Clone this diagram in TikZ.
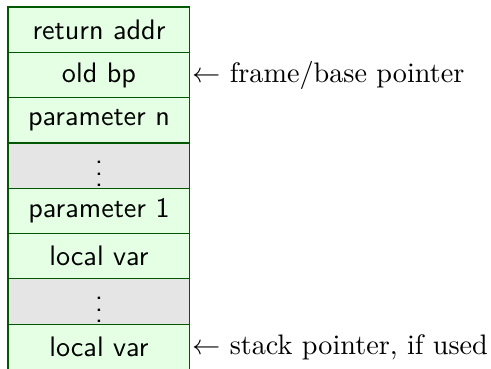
\documentclass[tikz,border=0pt]{standalone}
\usetikzlibrary{positioning}
\tikzset{
  cell/.style={draw=green!35!black, fill=green!10, minimum width=64.5pt, minimum height=16.07pt, inner sep=0pt, outer sep=0pt, font=\sffamily},
  gapcell/.style={cell, fill=gray!20},
  ptr/.style={anchor=west, inner sep=0.6pt}
}
\begin{document}
\begin{tikzpicture}
        \useasboundingbox (0,0) rectangle (174.1pt,-130.5pt);
        \node[cell, anchor=north west] (ret) at (2.84pt,-2.48pt) {return addr};
        \node[cell, below=0pt of ret] (oldbp) {old bp};
        \node[cell, below=0pt of oldbp] (parn) {parameter n};
        \node[gapcell, below=0pt of parn] (dotsa) {$\vdots$};
        \node[cell, below=0pt of dotsa] (parone) {parameter 1};
        \node[cell, below=0pt of parone] (locala) {local var};
        \node[gapcell, below=0pt of locala] (dotsb) {$\vdots$};
        \node[cell, below=0pt of dotsb] (localb) {local var};
        \node[ptr] (bp) at (oldbp.east) {$\leftarrow$ frame/base pointer};
        \node[ptr] (sp) at (localb.east) {$\leftarrow$ stack pointer, if used};
      \end{tikzpicture}
\end{document}
